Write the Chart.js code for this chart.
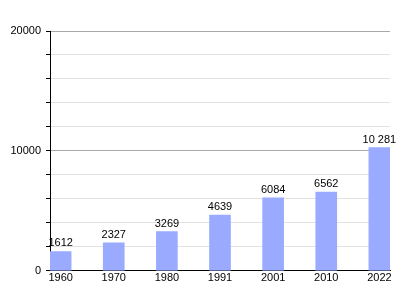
<!DOCTYPE html>
<html>
<head>
<meta charset="utf-8">
<script src="https://cdn.jsdelivr.net/npm/chart.js@4/dist/chart.umd.min.js"></script>
<style>
  html, body { margin: 0; padding: 0; background: #fff; }
  #wrap { width: 420px; height: 300px; }
</style>
</head>
<body>
<div id="wrap"><canvas id="pop"></canvas></div>
<script>
// census years and population
const years = ['1960', '1970', '1980', '1991', '2001', '2010', '2022'];
const population = [1612, 2327, 3269, 4639, 6084, 6562, 10281];
const valueLabels = ['1612', '2327', '3269', '4639', '6084', '6562', '10 281'];
const yMax = 20000;
const yStep = 2000;

// put the number above each bar
const barValues = {
    id: 'barValues',
    afterDatasetsDraw(chart) {
        const ctx = chart.ctx;
        ctx.save();
        ctx.font = '11px "Liberation Sans", Arial, sans-serif';
        ctx.fillStyle = '#000';
        ctx.textAlign = 'center';
        ctx.textBaseline = 'alphabetic';
        chart.getDatasetMeta(0).data.forEach((bar, i) => {
            ctx.fillText(valueLabels[i], bar.x, bar.y - 5);
        });
        ctx.restore();
    }
};

new Chart(document.getElementById('pop'), {
    type: 'bar',
    data: {
        datasets: [{
            label: 'Population',
            data: population.map((v, i) => ({ x: i, y: v })),
            backgroundColor: '#9aabff',
            borderWidth: 0,
            barThickness: 21
        }]
    },
    plugins: [barValues],
    options: {
        responsive: true,
        maintainAspectRatio: false,
        animation: false,
        layout: { padding: { top: 31, right: 30, left: 0, bottom: 14 } },
        plugins: {
            legend: { display: false },
            tooltip: { enabled: false }
        },
        scales: {
            x: {
                type: 'linear',
                offset: false,
                min: -0.2,
                max: 6.2,
                afterBuildTicks: axis => {
                    axis.ticks = years.map((y, i) => ({ value: i }));
                },
                ticks: {
                    callback: value => years[value],
                    color: '#000',
                    padding: 1,
                    maxRotation: 0,
                    font: { family: '"Liberation Sans", Arial, sans-serif', size: 11 }
                },
                grid: { display: false, drawTicks: false, offset: false },
                border: { display: true, color: '#000', width: 1 }
            },
            y: {
                min: 0,
                max: yMax,
                afterFit: scale => { scale.width = 50; },
                ticks: {
                    stepSize: yStep,
                    autoSkip: false,
                    callback: value => (value % 10000 === 0 ? String(value) : ''),
                    color: '#000',
                    padding: 5,
                    font: { family: '"Liberation Sans", Arial, sans-serif', size: 11 }
                },
                grid: {
                    color: ctx => {
                        const v = ctx.tick ? ctx.tick.value : 0;
                        if (v === 0) return '#000';
                        return v % 10000 === 0 ? '#a8a8a8' : '#e2e2e2';
                    },
                    tickColor: '#000',
                    tickLength: 4,
                    drawTicks: true
                },
                border: { display: true, color: '#000', width: 1 }
            }
        }
    }
});
</script>
</body>
</html>
